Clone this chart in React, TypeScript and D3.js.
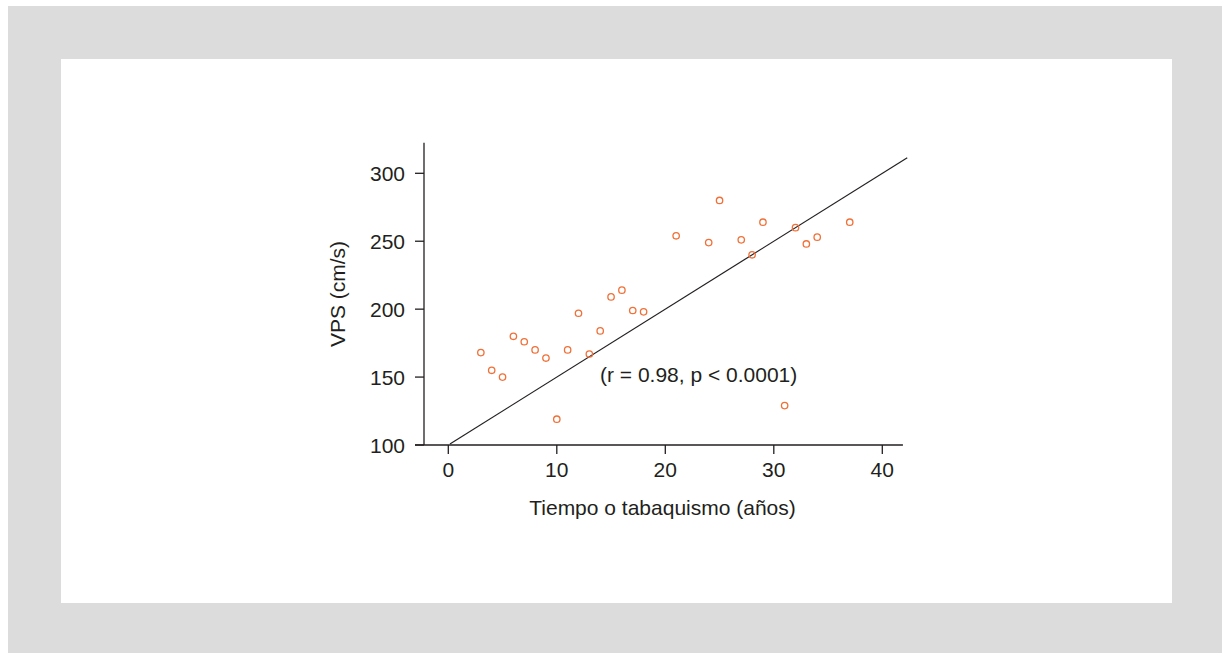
import { useEffect, useRef } from 'react';
import * as d3 from 'd3';

// años de tabaquismo y VPS (cm/s)
const years = [3, 4, 5, 6, 7, 8, 9, 10, 11, 12, 13, 14, 15, 16, 17, 18, 21, 24, 25, 27, 28, 29, 31, 32, 33, 34, 37];
const vps = [168, 155, 150, 180, 176, 170, 164, 119, 170, 197, 167, 184, 209, 214, 199, 198, 254, 249, 280, 251, 240, 264, 129, 260, 248, 253, 264];
const xTicks = [0, 10, 20, 30, 40];
const yTicks = [100, 150, 200, 250, 300];
const fitLine: [number, number][] = [[0.15, 100.75], [42.3, 311.5]];

const W = 1222;
const H = 653;

export default function App() {
  const svgRef = useRef<SVGSVGElement>(null);

  useEffect(() => {
    if (!svgRef.current) return;
    const svg = d3.select(svgRef.current);
    svg.selectAll('*').remove();

    const font = '"Liberation Sans", Arial, sans-serif';
    const ink = '#231f20';
    const fs = 21;

    // marco gris y panel blanco
    svg.append('rect').attr('x', 8).attr('y', 6).attr('width', W - 8).attr('height', H - 6).attr('fill', '#dcdcdd');
    svg.append('rect').attr('x', 61).attr('y', 59).attr('width', 1111).attr('height', 544).attr('fill', '#ffffff');

    const x = d3.scaleLinear().domain([0, 40]).range([448.3, 882.3]);
    const y = d3.scaleLinear().domain([100, 300]).range([445, 173.3]);

    const axisX = 424;
    const axisY = 445;

    const g = svg.append('g');

    // eje Y
    g.append('line')
      .attr('x1', axisX).attr('x2', axisX)
      .attr('y1', y(322.5)).attr('y2', axisY)
      .attr('stroke', ink).attr('stroke-width', 1.3);
    yTicks.forEach((t) => {
      g.append('line')
        .attr('x1', axisX - 9).attr('x2', axisX)
        .attr('y1', y(t)).attr('y2', y(t))
        .attr('stroke', ink).attr('stroke-width', 1.3);
      g.append('text')
        .attr('x', axisX - 19).attr('y', y(t) + 8)
        .attr('text-anchor', 'end')
        .attr('font-family', font).attr('font-size', fs)
        .attr('fill', ink)
        .text(t);
    });

    // eje X
    g.append('line')
      .attr('x1', axisX - 9).attr('x2', x(41.9))
      .attr('y1', axisY).attr('y2', axisY)
      .attr('stroke', ink).attr('stroke-width', 1.3);
    xTicks.forEach((t) => {
      g.append('line')
        .attr('x1', x(t)).attr('x2', x(t))
        .attr('y1', axisY).attr('y2', axisY + 9)
        .attr('stroke', ink).attr('stroke-width', 1.3);
      g.append('text')
        .attr('x', x(t)).attr('y', 477)
        .attr('text-anchor', 'middle')
        .attr('font-family', font).attr('font-size', fs)
        .attr('fill', ink)
        .text(t);
    });

    // títulos
    g.append('text')
      .attr('x', 662.5).attr('y', 515)
      .attr('text-anchor', 'middle')
      .attr('font-family', font).attr('font-size', fs)
      .attr('fill', ink)
      .text('Tiempo o tabaquismo (años)');
    g.append('text')
      .attr('transform', `translate(345,294) rotate(-90)`)
      .attr('text-anchor', 'middle')
      .attr('font-family', font).attr('font-size', fs)
      .attr('fill', ink)
      .text('VPS (cm/s)');

    // recta de regresión
    const line = d3.line<[number, number]>().x((d) => x(d[0])).y((d) => y(d[1]));
    g.append('path')
      .attr('d', line(fitLine))
      .attr('fill', 'none')
      .attr('stroke', ink)
      .attr('stroke-width', 1.2);

    // puntos
    years.forEach((yr, i) => {
      g.append('circle')
        .attr('cx', x(yr))
        .attr('cy', y(vps[i]))
        .attr('r', 3.2)
        .attr('fill', 'none')
        .attr('stroke', '#f07038')
        .attr('stroke-width', 1.3);
    });

    // anotación
    g.append('text')
      .attr('x', 600).attr('y', 382)
      .attr('font-family', font).attr('font-size', fs)
      .attr('fill', ink)
      .text('(r = 0.98, p < 0.0001)');
  }, []);

  return (
    <svg
      ref={svgRef}
      width={W}
      height={H}
      style={{ position: 'absolute', left: 0, top: 0, display: 'block' }}
    />
  );
}
